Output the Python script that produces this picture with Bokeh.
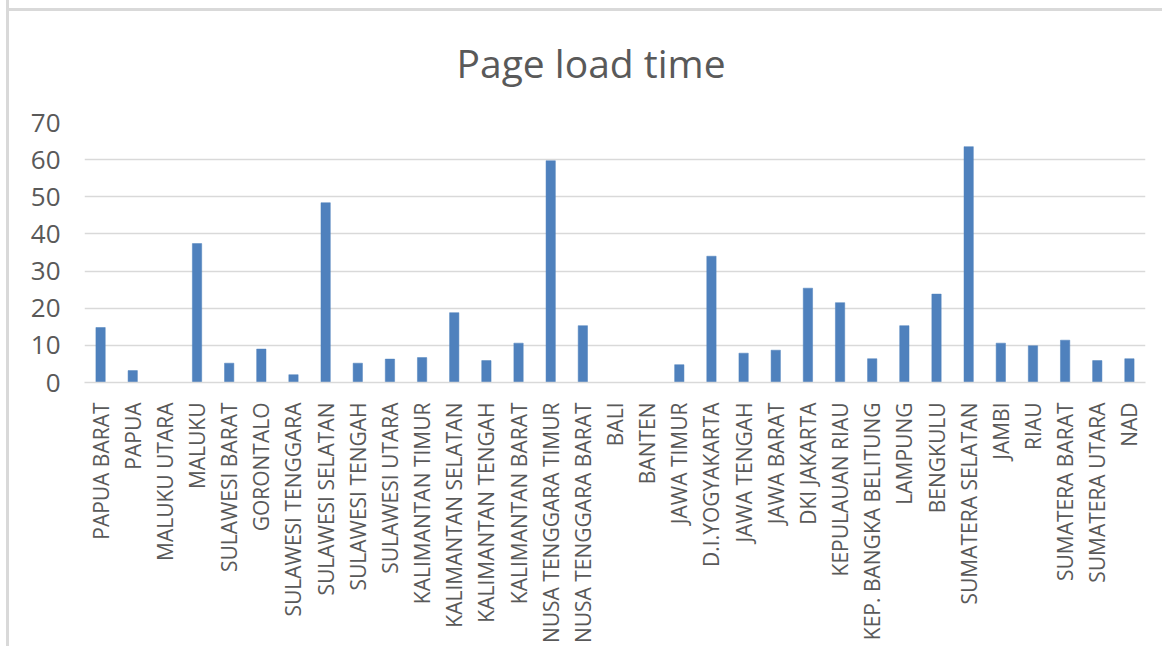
from bokeh.plotting import figure
from bokeh.embed import file_html
from bokeh.resources import INLINE
from bokeh.models import ColumnDataSource, FactorRange, Range1d, FixedTicker, Title

provinces = [
    "PAPUA BARAT", "PAPUA", "MALUKU UTARA", "MALUKU", "SULAWESI BARAT",
    "GORONTALO", "SULAWESI TENGGARA", "SULAWESI SELATAN", "SULAWESI TENGAH",
    "SULAWESI UTARA", "KALIMANTAN TIMUR", "KALIMANTAN SELATAN",
    "KALIMANTAN TENGAH", "KALIMANTAN BARAT", "NUSA TENGGARA TIMUR",
    "NUSA TENGGARA BARAT", "BALI", "BANTEN", "JAWA TIMUR", "D.I.YOGYAKARTA",
    "JAWA TENGAH", "JAWA BARAT", "DKI JAKARTA", "KEPULAUAN RIAU",
    "KEP. BANGKA BELITUNG", "LAMPUNG", "BENGKULU", "SUMATERA SELATAN",
    "JAMBI", "RIAU", "SUMATERA BARAT", "SUMATERA UTARA", "NAD",
]
load_time = [
    14.8, 3.2, 0, 37.4, 5.2,
    9.0, 2.1, 48.4, 5.2,
    6.3, 6.7, 18.8,
    5.9, 10.6, 59.7,
    15.3, 0, 0, 4.8, 34.0,
    7.9, 8.7, 25.4, 21.5,
    6.4, 15.3, 23.8, 63.5,
    10.6, 9.9, 11.4, 5.9, 6.4,
]
y_ticks = [0, 10, 20, 30, 40, 50, 60, 70]
chart_title = "Page load time"

source = ColumnDataSource(data=dict(province=provinces, value=load_time))

p = figure(
    x_range=FactorRange(*provinces, range_padding=0),
    y_range=Range1d(0, 70),
    width=1156, height=646,
    output_backend="svg", toolbar_location=None,
    min_border_left=75, min_border_right=20, min_border_top=122,
    min_border_bottom=10,
    title=None,
)

title = Title(text=chart_title, align="left", text_font="Open Sans",
              text_font_size="39px", text_font_style="normal",
              text_color="#595959", standoff=67, offset=372)
p.add_layout(title, "above")

p.vbar(x="province", top="value", width=0.29, source=source,
       fill_color="#4f81bd", line_color="#4f81bd", line_width=0.5)

p.outline_line_color = None
p.background_fill_color = "white"
p.border_fill_color = None

p.xgrid.grid_line_color = None
p.ygrid.grid_line_color = "#d9d9d9"
p.ygrid.grid_line_width = 1.5
p.yaxis.ticker = FixedTicker(ticks=y_ticks)

p.yaxis.axis_line_color = None
p.yaxis.major_tick_line_color = None
p.yaxis.minor_tick_line_color = None
p.yaxis.major_label_text_font = "Open Sans"
p.yaxis.major_label_text_font_size = "26px"
p.yaxis.major_label_text_color = "#595959"
p.yaxis.major_label_standoff = 18

p.xaxis.axis_line_color = "#d9d9d9"
p.xaxis.axis_line_width = 1.5
p.xaxis.major_tick_line_color = None
p.xaxis.minor_tick_line_color = None
p.xaxis.major_label_orientation = 1.5707963
p.xaxis.major_label_text_font = "Open Sans"
p.xaxis.major_label_text_font_size = "21px"
p.xaxis.major_label_text_color = "#595959"
p.xaxis.major_label_standoff = 14

p.styles = {
    "border-left": "3px solid #d9d9d9",
    "margin-left": "6px",
    "background": "linear-gradient(to bottom, #ffffff 0px, #ffffff 8px, #d9d9d9 8px, #d9d9d9 11px, #ffffff 11px, #ffffff 100%)",
}

open("out.html", "w").write(file_html(p, INLINE))
